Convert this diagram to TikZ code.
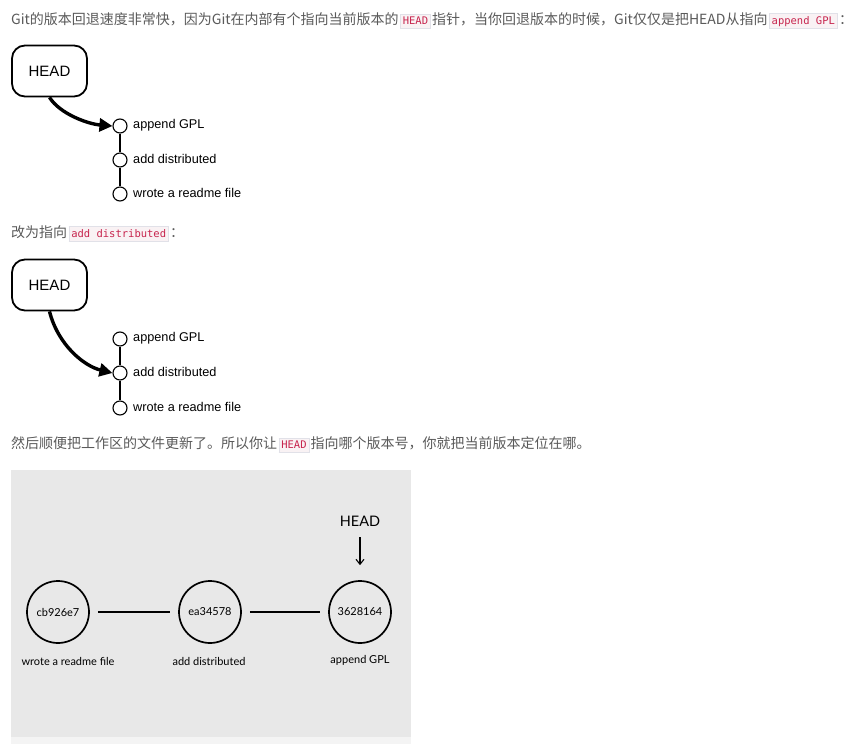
\documentclass[tikz,border=0pt]{standalone}
\usepackage{fontspec}
\setmainfont{Noto Sans CJK SC}
\newfontfamily\helv{Liberation Sans}
\newfontfamily\gill{Lato}
\newfontfamily\codefont{DejaVu Sans Mono}
\usetikzlibrary{arrows.meta}
\definecolor{txt}{HTML}{5A5A5A}
\definecolor{codefg}{HTML}{C7254E}
\definecolor{codebg}{HTML}{F9F2F4}
\definecolor{codebd}{HTML}{E1E1E8}
\definecolor{panel}{HTML}{E8E8E8}
\definecolor{strip}{HTML}{F4F4F4}
\newcommand\codebox[1]{\hspace{1.5pt}{\setlength\fboxsep{2pt}\setlength\fboxrule{0.6pt}\fcolorbox{codebd}{codebg}{\codefont\fontsize{10.5}{12}\selectfont\color{codefg}\vphantom{Hg}#1}}\hspace{1.5pt}}
\tikzset{
  para/.style={anchor=base west, inner sep=0pt, text=txt, font=\fontsize{14}{17}\selectfont},
  headbox/.style={draw, line width=1.8pt, rounded corners=13pt, minimum width=75pt, minimum height=51pt, font=\helv\fontsize{15}{18}\selectfont},
  dot/.style={draw, circle, line width=1.1pt, minimum size=14pt, inner sep=0pt},
  lab/.style={anchor=west, inner sep=0pt, font=\helv\fontsize{12.7}{15}\selectfont},
  vline/.style={line width=1.3pt},
  bigarrow/.style={line width=3.4pt, -{Triangle[length=13pt,width=13pt]}},
  bigc/.style={draw, circle, line width=1.7pt, minimum size=62pt, inner sep=0pt, font=\gill\fontsize{11}{13}\selectfont},
  plab/.style={inner sep=0pt, font=\gill\fontsize{11}{13}\selectfont},
  hline/.style={line width=1.8pt, shorten <=8pt, shorten >=8pt},
}
\begin{document}
\begin{tikzpicture}[x=1pt,y=-1pt]
\useasboundingbox (0,0) rectangle (860,744);
\fill[white] (0,0) rectangle (860,744);

% text line 1
\node[para] (t1) at (11,24) {Git的版本回退速度非常快，因为Git在内部有个指向当前版本的\codebox{HEAD}指针，当你回退版本的时候，Git仅仅是把HEAD从指向\codebox{append GPL}：};

% diagram 1
\node[headbox] (h1) at (49.5,71) {HEAD};
\node[dot] (a1) at (120,126) {};
\node[dot] (a2) at (120,160) {};
\node[dot] (a3) at (120,194) {};
\node[lab] (la1) at (133,125) {append GPL};
\node[lab] (la2) at (133,159) {add distributed};
\node[lab] (la3) at (133,193) {wrote a readme file};
\draw[vline] (a1) -- (a2);
\draw[vline] (a2) -- (a3);
\draw[bigarrow] (h1.south) .. controls (60,114) and (88,124) .. (a1.west);

% text line 2
\node[para] (t2) at (11,237) {改为指向\codebox{add distributed}：};

% diagram 2
\node[headbox] (h2) at (49.5,285) {HEAD};
\node[dot] (b1) at (120,339) {};
\node[dot] (b2) at (120,373) {};
\node[dot] (b3) at (120,408) {};
\node[lab] (lb1) at (133,338) {append GPL};
\node[lab] (lb2) at (133,372) {add distributed};
\node[lab] (lb3) at (133,407) {wrote a readme file};
\draw[vline] (b1) -- (b2);
\draw[vline] (b2) -- (b3);
\draw[bigarrow] (h2.south) .. controls (58,345) and (84,366) .. (b2.west);

% text line 3
\node[para] (t3) at (11,448) {然后顺便把工作区的文件更新了。所以你让\codebox{HEAD}指向哪个版本号，你就把当前版本定位在哪。};

% panel
\fill[panel] (11,470) rectangle (411,737);
\fill[strip] (11,737) rectangle (411,744);
\node[bigc] (c1) at (58,612) {cb926e7};
\node[bigc] (c2) at (210,612) {ea34578};
\node[bigc] (c3) at (360,612) {3628164};
\draw[hline] (c1) -- (c2);
\draw[hline] (c2) -- (c3);
\node[plab] (p1) at (68,661) {wrote a readme file};
\node[plab] (p2) at (209,661) {add distributed};
\node[plab] (p3) at (360,660) {append GPL};
\node[inner sep=0pt, font=\gill\fontsize{14.5}{17}\selectfont] (hd) at (360,521) {HEAD};
\draw[line width=1.1pt, -{Straight Barb[length=5pt,width=8pt]}, shorten <=11pt, shorten >=15pt] (hd.south) -- (c3.north);
\end{tikzpicture}
\end{document}
